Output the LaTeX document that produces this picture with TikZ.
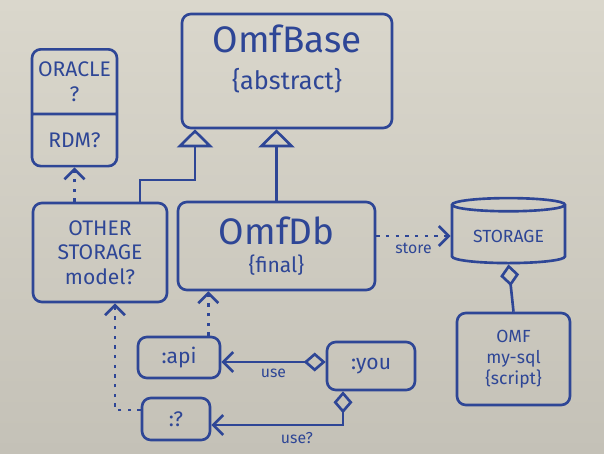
\documentclass[tikz,border=0pt]{standalone}
\usepackage{fontspec}
\setmainfont{Fira Sans}
\usetikzlibrary{shapes, arrows.meta}
\definecolor{ink}{RGB}{46,70,150}
\definecolor{boardlight}{RGB}{218,215,204}
\definecolor{boarddark}{RGB}{196,193,183}
\tikzstyle{box} = [draw=ink, line width=1.5pt, rounded corners=5pt, text=ink, align=center, inner sep=2pt]
\tikzstyle{drum} = [draw=ink, line width=1.5pt, sharp corners, text=ink, cylinder, shape border rotate=90, aspect=0.16]
\tikzstyle{inherit} = [draw=ink, line width=1.5pt, -{Triangle[open, length=0.36cm, width=0.72cm]}]
\tikzstyle{dep} = [draw=ink, line width=1.5pt, dash pattern=on 2pt off 3.5pt, -{Straight Barb[length=2mm, width=4mm]}]
\tikzstyle{uses} = [draw=ink, line width=1.5pt, {Diamond[open, length=0.44cm, width=0.38cm]}-{Straight Barb[length=2mm, width=4mm]}]
\tikzstyle{lbl} = [text=ink, font=\small]

\begin{document}
\begin{tikzpicture}[x=0.02cm, y=-0.02cm]

    % Board
    \shade[top color=boardlight, bottom color=boarddark] (0,0) rectangle (604,453);
    \useasboundingbox (0,0) rectangle (604,453);

    % Classes
    \node[box, minimum width=4.2cm, minimum height=2.28cm] (base) at (287,71)
        {{\fontsize{21}{24}\selectfont OmfBase}\\[8pt]{\Large\{abstract\}}\\[4pt]};
    \node[box, minimum width=3.94cm, minimum height=1.76cm] (db) at (276.5,246)
        {{\fontsize{21}{24}\selectfont OmfDb}\\[4pt]{\large\{final\}}};
    \node[box, minimum width=2.68cm, minimum height=1.98cm, font=\large] (other) at (100,252.5)
        {OTHER\\STORAGE\\model?};
    \node[box, rectangle split, rectangle split parts=2, minimum width=1.7cm, anchor=north] (orc) at (74.5,48)
        {\parbox[c][1.1cm]{1.5cm}{\centering\large ORACLE\\?}\nodepart{two}\parbox[c][0.85cm]{1.5cm}{\centering\large RDM?}};

    % Storage
    \node[drum, minimum width=2.26cm, minimum height=1.3cm] (stor) at (508.5,236) {STORAGE};
    \node[box, minimum width=2.26cm, minimum height=1.84cm] (omf) at (513.5,359)
        {OMF\\my-sql\\\{script\}};

    % Objects
    \node[box, minimum width=1.64cm, minimum height=0.82cm, font=\large] (api) at (179,357.5) {:api};
    \node[box, minimum width=1.76cm, minimum height=0.96cm, font=\large] (you) at (371,366) {:you};
    \node[box, minimum width=1.36cm, minimum height=0.84cm, font=\large] (q) at (176,419) {:?};

    % Inheritance
    \coordinate (j1) at (140,180);
    \coordinate (j2) at (195,180);
    \draw[inherit] (other.north -| j1) -- (j1) -- (j2) -- (j2 |- base.south);
    \draw[inherit] (db.north) -- (db.north |- base.south);

    % Dependencies
    \draw[dep] (other.north -| orc.south) -- (orc.south);
    \draw[dep] (db.east |- stor.west) -- (stor.west) node[lbl, below, pos=0.5] (storelbl) {store};
    \coordinate (a1) at ([xshift=-0.26cm]api.north east);
    \draw[dep] (a1) -- (a1 |- db.south);
    \coordinate (b1) at (115,410);
    \draw[dep] (q.west |- b1) -| (b1 |- other.south);

    % Aggregations
    \draw[draw=ink, line width=1.5pt, {Diamond[open, length=0.44cm, width=0.38cm]}-] (stor.south) -- (omf.north);
    \draw[uses] (you.west |- 0,362) -- (api.east |- 0,362) node[lbl, below, pos=0.5] (uselbl) {use};
    \coordinate (k) at (343,425);
    \draw[uses] (you.south -| k) -- (k) -- (q.east |- k) node[lbl, below, pos=0.35] (uselbl2) {use?};

\end{tikzpicture}
\end{document}
